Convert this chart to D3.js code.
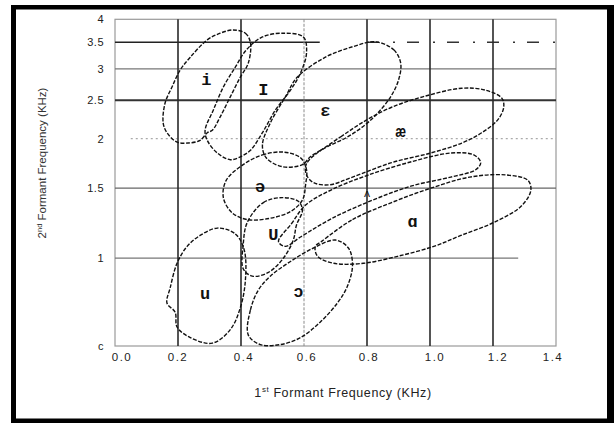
<!DOCTYPE html>
<html><head><meta charset="utf-8">
<script src="https://cdn.jsdelivr.net/npm/d3@7"></script>
<style>body{margin:0;background:#fff}svg{display:block}</style>
</head><body>
<svg id="c" width="614" height="423"></svg>
<script>
// ---- data ----
const xTicks = [0, 0.2, 0.4, 0.6, 0.8, 1.0, 1.2, 1.4];
const xTickLabels = ["0.0", "0.2", "0.4", "0.6", "0.8", "1.0", "1.2", "1.4"];
const yTicks = [0.6, 1, 1.5, 2, 2.5, 3, 3.5, 4];
const yTickLabels = ["c", "1", "1.5", "2", "2.5", "3", "3.5", "4"];
const vGrid = [0.2, 0.4, 0.6, 0.8, 1.0, 1.2];
const hGrid = [1, 1.5, 2, 2.5, 3, 3.5];

const outline_i = [[0.375,3.76],[0.414,3.69],[0.430,3.49],[0.423,3.10],[0.398,2.86],[0.366,2.55],[0.334,2.27],[0.309,2.10],[0.293,2.07],[0.270,1.98],[0.232,1.95],[0.197,1.96],[0.165,2.07],[0.153,2.19],[0.159,2.46],[0.181,2.70],[0.207,2.98],[0.239,3.21],[0.293,3.55],[0.334,3.69]];
const outline_I = [[0.531,3.69],[0.598,3.61],[0.608,3.29],[0.589,2.93],[0.557,2.65],[0.509,2.36],[0.468,2.07],[0.430,1.87],[0.398,1.80],[0.366,1.77],[0.325,1.84],[0.293,1.98],[0.286,2.10],[0.312,2.36],[0.344,2.70],[0.382,3.03],[0.417,3.35],[0.468,3.61]];
const outline_E = [[0.827,3.51],[0.885,3.35],[0.907,3.10],[0.900,2.81],[0.875,2.55],[0.834,2.32],[0.795,2.17],[0.738,2.02],[0.675,1.91],[0.620,1.80],[0.595,1.72],[0.531,1.70],[0.480,1.79],[0.468,1.93],[0.493,2.19],[0.541,2.55],[0.579,2.86],[0.668,3.21],[0.754,3.41]];
const outline_ae = [[0.617,1.77],[0.716,2.02],[0.799,2.23],[0.878,2.40],[0.977,2.55],[1.101,2.68],[1.177,2.65],[1.228,2.53],[1.234,2.40],[1.215,2.23],[1.164,2.07],[1.101,1.95],[1.002,1.84],[0.878,1.74],[0.754,1.60],[0.681,1.53],[0.630,1.55],[0.608,1.62],[0.605,1.70]];
const outline_schwa = [[0.407,1.72],[0.468,1.82],[0.535,1.85],[0.589,1.79],[0.608,1.67],[0.605,1.53],[0.595,1.40],[0.557,1.31],[0.493,1.26],[0.420,1.25],[0.372,1.30],[0.344,1.42],[0.353,1.57]];
const outline_wedge = [[0.519,1.10],[0.560,1.22],[0.605,1.36],[0.690,1.49],[0.805,1.62],[0.942,1.75],[1.066,1.84],[1.139,1.82],[1.161,1.74],[1.145,1.67],[1.066,1.60],[0.942,1.52],[0.818,1.40],[0.690,1.26],[0.589,1.13],[0.541,1.07]];
const outline_U = [[0.420,1.23],[0.471,1.38],[0.531,1.42],[0.582,1.39],[0.595,1.32],[0.576,1.21],[0.566,1.11],[0.535,1.00],[0.487,0.92],[0.436,0.90],[0.407,0.94],[0.407,1.08]];
const outline_u = [[0.325,1.19],[0.382,1.15],[0.410,1.05],[0.414,0.88],[0.398,0.75],[0.366,0.66],[0.309,0.61],[0.239,0.63],[0.197,0.67],[0.191,0.73],[0.165,0.77],[0.175,0.84],[0.197,0.97],[0.229,1.07],[0.270,1.14]];
const outline_oo = [[0.423,0.64],[0.430,0.74],[0.455,0.83],[0.493,0.90],[0.557,0.98],[0.630,1.06],[0.700,1.11],[0.741,1.06],[0.754,0.96],[0.738,0.85],[0.706,0.77],[0.652,0.69],[0.589,0.63],[0.525,0.605],[0.461,0.605]];
const outline_a = [[0.655,1.10],[0.754,1.25],[0.878,1.38],[1.002,1.50],[1.126,1.60],[1.241,1.62],[1.311,1.57],[1.320,1.48],[1.289,1.35],[1.203,1.23],[1.098,1.14],[1.012,1.07],[0.897,1.01],[0.789,0.97],[0.694,0.97],[0.643,1.01],[0.636,1.07]];

const vowelLabels = ["i", "I", "ɛ", "æ", "ə", "U", "u", "ɔ", "ɑ", "ʌ"];
const labelF1 = [0.290, 0.471, 0.668, 0.907, 0.461, 0.503, 0.286, 0.582, 0.945, 0.800];
const labelF2 = [2.81, 2.65, 2.34, 2.07, 1.51, 1.14, 0.81, 0.82, 1.23, 1.45];

const xTitle = ["1", "st", " Formant Frequency (KHz)"];
const yTitle = ["2", "nd", " Formant Frequency (KHz)"];

// ---- drawing ----
const svg = d3.select("#c");
const x = d3.scaleLinear().domain([0, 1.4]).range([115, 556]);
const y = d3.scaleLog().domain([0.6, 4]).range([346, 19.3]);

// frame
svg.append("rect").attr("x", 0).attr("y", 0).attr("width", 614).attr("height", 423).attr("fill", "#fff");
svg.append("rect").attr("x", 11).attr("y", 5).attr("width", 603).attr("height", 4.5).attr("fill", "#000");
svg.append("rect").attr("x", 11).attr("y", 5).attr("width", 5).attr("height", 418).attr("fill", "#000");
svg.append("rect").attr("x", 607).attr("y", 5).attr("width", 7).attr("height", 418).attr("fill", "#000");
svg.append("rect").attr("x", 11).attr("y", 418.5).attr("width", 603).attr("height", 4.5).attr("fill", "#000");

const g = svg.append("g");

// plot border
g.append("rect").attr("x", x(0)).attr("y", y(4)).attr("width", x(1.4) - x(0)).attr("height", y(0.6) - y(4))
  .attr("fill", "none").attr("stroke", "#9a9a9a").attr("stroke-width", 1.2);

// horizontal grid
const hStyle = {1: ["#777", 1.2, null, 1.28], 1.5: ["#666", 1.3, null, 1.4], 2: ["#aaa", 1.2, "2,3", 1.4],
  2.5: ["#333", 2, null, 1.4], 3: ["#777", 1.3, null, 1.4], 3.5: ["#222", 1.6, null, 0.65]};
hGrid.forEach(v => {
  const s = hStyle[v];
  const x0 = v === 2 ? 0.05 : 0;
  g.append("line").attr("x1", x(x0)).attr("x2", x(s[3])).attr("y1", y(v)).attr("y2", y(v))
    .attr("stroke", s[0]).attr("stroke-width", s[1]).attr("stroke-dasharray", s[2]);
});
// broken continuation of 3.5 line
g.append("line").attr("x1", x(0.8)).attr("x2", x(1.4)).attr("y1", y(3.5)).attr("y2", y(3.5))
  .attr("stroke", "#333").attr("stroke-width", 1.4).attr("stroke-dasharray", "12,14,2,12");

// vertical grid
vGrid.forEach(v => {
  const light = v === 0.6;
  g.append("line").attr("x1", x(v)).attr("x2", x(v)).attr("y1", y(4)).attr("y2", y(0.6))
    .attr("stroke", light ? "#8a8a8a" : "#2a2a2a").attr("stroke-width", light ? 1 : 1.6)
    .attr("stroke-dasharray", light ? "3,1.5" : null);
});

// outlines
const line = d3.line().x(d => x(d[0])).y(d => y(d[1])).curve(d3.curveCatmullRomClosed.alpha(0.5));
[outline_i, outline_I, outline_E, outline_ae, outline_schwa, outline_wedge, outline_U, outline_u, outline_oo, outline_a]
  .forEach(o => {
    g.append("path").attr("d", line(o)).attr("fill", "none").attr("stroke", "#111")
      .attr("stroke-width", 1.4).attr("stroke-dasharray", "4,1.6");
  });

// vowel labels
vowelLabels.forEach((t, i) => {
  const small = t === "ʌ";
  g.append("text").attr("x", x(labelF1[i])).attr("y", y(labelF2[i]))
    .attr("text-anchor", "middle").attr("dominant-baseline", "central")
    .attr("font-family", "'Liberation Mono','DejaVu Sans Mono',monospace")
    .attr("font-weight", small ? "normal" : "bold").attr("font-size", small ? 11 : 17)
    .attr("fill", "#111").text(t);
});

// x tick labels
const xOff = [7, 0, 3, 3, 2, 5, 5, -3];
xTicks.forEach((v, i) => {
  svg.append("text").attr("x", x(v) + xOff[i]).attr("y", 361)
    .attr("text-anchor", "middle").attr("font-family", "'Liberation Sans',Arial,sans-serif")
    .attr("font-size", 11.5).attr("letter-spacing", 1.5).attr("fill", "#222").text(xTickLabels[i]);
});
// y tick labels
yTicks.forEach((v, i) => {
  svg.append("text").attr("x", 104).attr("y", y(v) + 4)
    .attr("text-anchor", "end").attr("font-family", "'Liberation Sans',Arial,sans-serif")
    .attr("font-size", 11).attr("letter-spacing", 0.5).attr("fill", "#222").text(yTickLabels[i]);
});

// axis titles
const xt = svg.append("text").attr("x", 343).attr("y", 397).attr("text-anchor", "middle")
  .attr("font-family", "'Liberation Sans',Arial,sans-serif").attr("font-size", 12.5)
  .attr("letter-spacing", 0.6).attr("fill", "#222");
xt.append("tspan").text(xTitle[0]);
xt.append("tspan").attr("font-size", 8).attr("dy", -5).text(xTitle[1]);
xt.append("tspan").attr("dy", 5).text(xTitle[2]);

const yt = svg.append("text").attr("transform", "translate(46,163) rotate(-90)").attr("text-anchor", "middle")
  .attr("font-family", "'Liberation Sans',Arial,sans-serif").attr("font-size", 11.5)
  .attr("fill", "#333");
yt.append("tspan").text(yTitle[0]);
yt.append("tspan").attr("font-size", 7.5).attr("dy", -4).text(yTitle[1]);
yt.append("tspan").attr("dy", 4).text(yTitle[2]);
</script>
</body></html>
